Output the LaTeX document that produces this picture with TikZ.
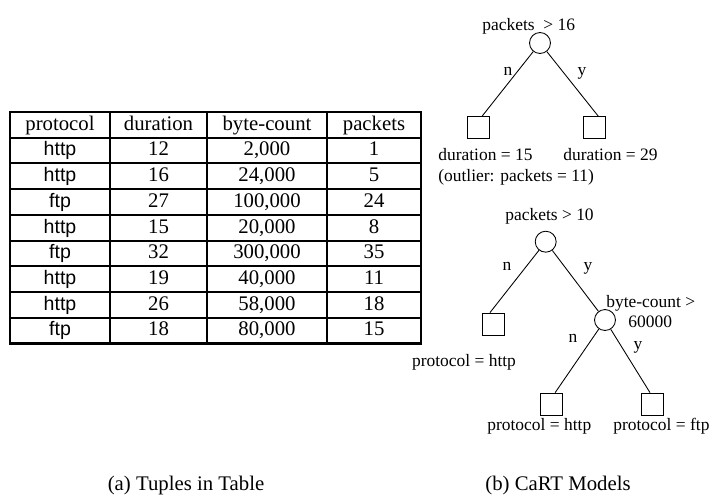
\documentclass[tikz,border=0pt]{standalone}
\usepackage{fontspec}
\setmainfont{Liberation Serif}
\newfontfamily\arialfont{Liberation Sans}
\usetikzlibrary{positioning}

\begin{document}
\begin{tikzpicture}[x=0.573pt,y=-0.573pt,
  split/.style={draw,circle,minimum size=12pt,inner sep=0pt,line width=0.5pt},
  leaf/.style={draw,rectangle,minimum size=12.6pt,inner sep=0pt,line width=0.45pt},
  lbl/.style={font=\fontsize{10}{12}\selectfont,inner sep=0pt},
  cell/.style={font=\fontsize{11.9}{14}\selectfont,inner sep=0pt,anchor=base},
  proto/.style={font=\arialfont\fontsize{11.2}{13}\selectfont,inner sep=0pt,anchor=base},
  edge/.style={line width=0.5pt}]
\useasboundingbox (0,0) rectangle (712,496);

% Table frame and rules
\draw[line width=1.5pt] (10,112) rectangle (421,343.3);
\foreach \i in {1,...,8}
  \draw[line width=1.15pt] (10,{112+\i*25.7}) -- (421,{112+\i*25.7});
\foreach \x in {110,207,327}
  \draw[line width=1.15pt] (\x,112) -- (\x,343.3);

% Header
\foreach \x/\head in {60/protocol, 158.5/duration, 267/byte-count, 374/packets}
  \node[cell] at (\x,130.2) {\head};

% Tuples
\foreach \proto/\dur/\bytes/\pkts [count=\i] in {
  http/12/{2,000}/1,
  http/16/{24,000}/5,
  ftp/27/{100,000}/24,
  http/15/{20,000}/8,
  ftp/32/{300,000}/35,
  http/19/{40,000}/11,
  http/26/{58,000}/18,
  ftp/18/{80,000}/15
} {
  \pgfmathsetmacro{\rowbase}{112+(\i+1)*25.7-7.5}
  \node[proto] at (60,\rowbase) {\proto};
  \node[cell] at (158.5,\rowbase) {\dur};
  \node[cell] at (267,\rowbase) {\bytes};
  \node[cell] at (374,\rowbase) {\pkts};
}

% First model
\node[split] (t1root) at (540,43) {};
\node[leaf] (t1left) at (478,127.5) {};
\node[leaf] (t1right) at (594.5,127.5) {};
\draw[edge] (t1root) -- (t1left.70);
\draw[edge] (t1root) -- (t1right.72);
\node[lbl,anchor=base west] (t1test) at (482,30.5) {packets~ > 16};
\node[lbl,anchor=base] (t1no) at (508,75) {n};
\node[lbl,anchor=base] (t1yes) at (582,75) {y};
\node[lbl,anchor=base west] (t1lval) at (438,160) {duration = 15};
\node[lbl,anchor=base west] (t1out) at (438,181) {(outlier: packets = 11)};
\node[lbl,anchor=base west] (t1rval) at (563,160) {duration = 29};

% Second model
\node[split] (t2root) at (545.7,241.7) {};
\node[leaf] (t2left) at (493,324) {};
\node[split] (t2split) at (605,320) {};
\node[leaf] (t2ll) at (551,404) {};
\node[leaf] (t2lr) at (652,404) {};
\draw[edge] (t2root) -- (t2left.105);
\draw[edge] (t2root) -- (t2split);
\draw[edge] (t2split) -- (t2ll.70);
\draw[edge] (t2split) -- (t2lr.100);
\node[lbl,anchor=base west] (t2test) at (505,220.7) {packets > 10};
\node[lbl,anchor=base] (t2no) at (507,270) {n};
\node[lbl,anchor=base] (t2yes) at (588,270.7) {y};
\node[lbl,anchor=base west] (t2test2) at (606,307.3) {byte-count >};
\node[lbl,anchor=base west] (t2test2b) at (628,327.3) {60000};
\node[lbl,anchor=base] (t2no2) at (573,342.7) {n};
\node[lbl,anchor=base] (t2yes2) at (638,349.3) {y};
\node[lbl,anchor=base west] (t2lval) at (411.7,366) {protocol = http};
\node[lbl,anchor=base west] (t2llval) at (487,430) {protocol = http};
\node[lbl,anchor=base west] (t2lrval) at (613,430) {protocol = ftp};

% Captions
\node[cell] (capa) at (186,490) {(a) Tuples in Table};
\node[cell] (capb) at (558,490) {(b) CaRT Models};
\end{tikzpicture}
\end{document}
